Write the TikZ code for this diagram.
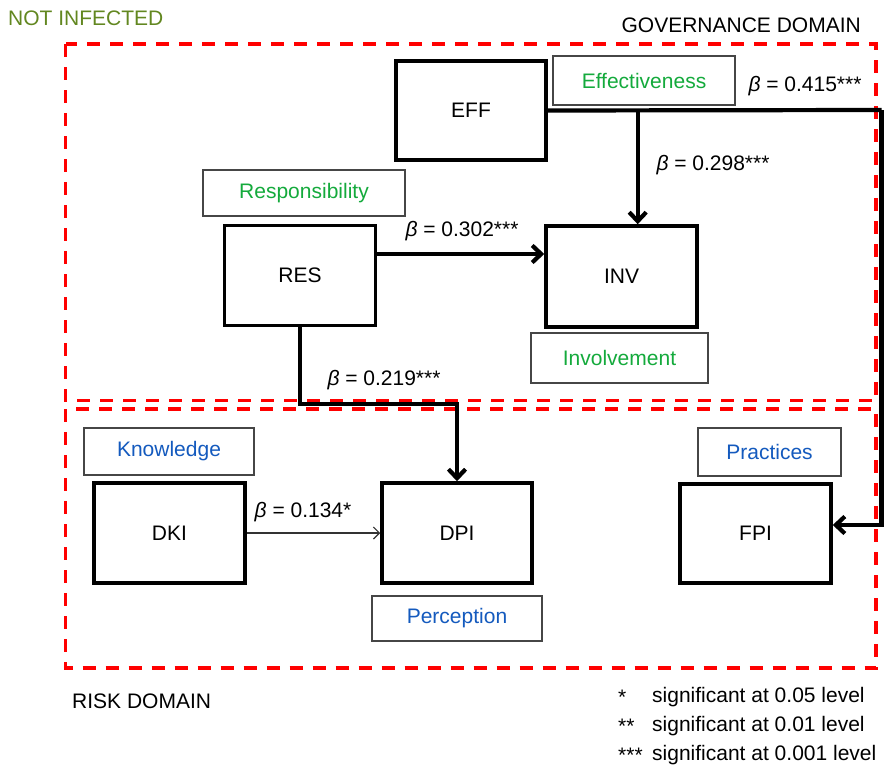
\documentclass[tikz,border=0pt]{standalone}
\usepackage{fontspec}
\setmainfont{Liberation Sans}
\usetikzlibrary{arrows.meta}
\definecolor{olivet}{RGB}{98,135,32}
\definecolor{gtext}{RGB}{20,170,60}
\definecolor{btext}{RGB}{20,90,190}
\definecolor{dred}{RGB}{255,0,0}
\definecolor{lbord}{RGB}{70,70,70}
\begin{document}
\begin{tikzpicture}[x=1pt,y=-1pt,
  font=\fontsize{21}{25}\selectfont,
  mainbox/.style={draw=black, line width=3.5pt, inner sep=0pt, fill=white},
  lblbox/.style={draw=lbord, line width=1.4pt, inner sep=0pt, fill=white},
  redbox/.style={draw=dred, line width=3.5pt, dash pattern=on 13pt off 10pt},
  conn/.style={line width=4.2pt, -{Straight Barb[length=9pt,width=17pt]}},
  thinconn/.style={line width=1.2pt, draw=black!80, -{Straight Barb[length=6pt,width=12pt]}},
  txtnode/.style={inner sep=0pt}
]
\useasboundingbox (0,0) rectangle (885,771);

% domains
\draw[redbox] (65.5,44) rectangle (876,400.5);
\draw[redbox] (65.5,409) rectangle (876,668);

% main boxes
\node[mainbox, minimum width=150pt, minimum height=99pt] (EFF) at (471,110.5) {EFF};
\node[mainbox, minimum width=151pt, minimum height=100pt] (RES) at (300,275.5) {RES};
\node[mainbox, minimum width=151pt, minimum height=101pt] (INV) at (621.5,276.5) {INV};
\node[mainbox, minimum width=151pt, minimum height=100pt] (DKI) at (169.5,533) {DKI};
\node[mainbox, minimum width=150pt, minimum height=100pt] (DPI) at (457,533) {DPI};
\node[mainbox, minimum width=151pt, minimum height=99pt] (FPI) at (755.5,533.5) {FPI};

% label boxes
\node[lblbox, text=gtext, minimum width=182pt, minimum height=49pt] (leff) at (644,80.5) {Effectiveness};
\node[lblbox, text=gtext, minimum width=202pt, minimum height=46pt] (lres) at (304,193) {Responsibility};
\node[lblbox, text=gtext, minimum width=177pt, minimum height=50pt] (linv) at (619.5,358) {Involvement};
\node[lblbox, text=btext, minimum width=170pt, minimum height=47pt] (ldki) at (169,451.5) {Knowledge};
\node[lblbox, text=btext, minimum width=170pt, minimum height=45pt] (ldpi) at (457,618.5) {Perception};
\node[lblbox, text=btext, minimum width=143pt, minimum height=48pt] (lfpi) at (769.5,452) {Practices};

% connectors
\coordinate (cR) at (881.5,110);
\coordinate (cB) at (637.7,110);
\coordinate (cD) at (380,404);
\draw[line width=4.2pt] (EFF.east) -- (cR);
\draw[conn] (cR) |- ([yshift=8.5pt]FPI.east);
\draw[conn] (cB) -- (cB |- INV.north);
\draw[conn] ([yshift=21.5pt]RES.east) -- ([yshift=21.5pt]RES.east -| INV.west);
\draw[conn] (RES.south) |- (cD) -| (DPI.north);
\draw[thinconn] (DKI.east) -- (DPI.west);

% coefficient labels
\node[txtnode] (b415) at (805,86) {\textit{β} = 0.415***};
\node[txtnode] (b298) at (713,165) {\textit{β} = 0.298***};
\node[txtnode] (b302) at (462,231) {\textit{β} = 0.302***};
\node[txtnode] (b219) at (384,380) {\textit{β} = 0.219***};
\node[txtnode] (b134) at (303,512) {\textit{β} = 0.134*};

% titles
\node[txtnode, anchor=west, text=olivet] (ni) at (8,18) {NOT INFECTED};
\node[txtnode, anchor=east] (gd) at (861,25) {GOVERNANCE DOMAIN};
\node[txtnode, anchor=west] (rd) at (72,701) {RISK DOMAIN};

% legend
\node[txtnode, anchor=west] (s1) at (618,697) {*};
\node[txtnode, anchor=west] (t1) at (652,697) {significant at 0.05 level};
\node[txtnode, anchor=west] (s2) at (618,726) {**};
\node[txtnode, anchor=west] (t2) at (652,726) {significant at 0.01 level};
\node[txtnode, anchor=west] (s3) at (618,755) {***};
\node[txtnode, anchor=west] (t3) at (652,755) {significant at 0.001 level};
\end{tikzpicture}
\end{document}
